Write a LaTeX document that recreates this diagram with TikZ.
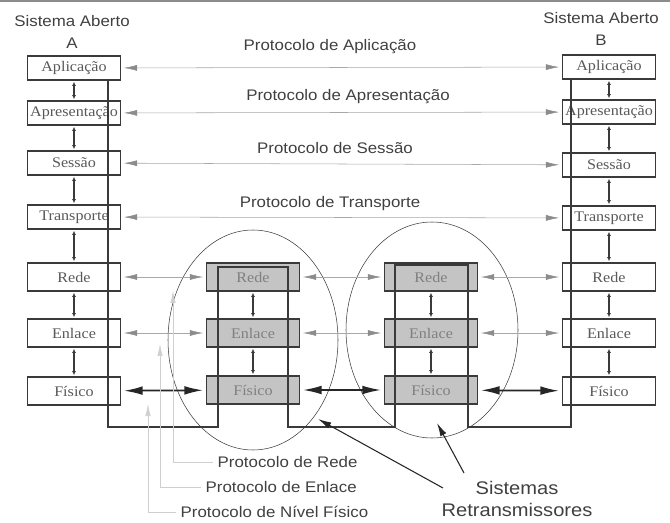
\documentclass[tikz,border=0pt]{standalone}
\usepackage{fontspec}
\setmainfont{Liberation Serif}[FakeStretch=1.1]
\newfontfamily\labelfont{Liberation Sans}[FakeStretch=1.1]
\usetikzlibrary{arrows.meta,shapes}
\definecolor{boxline}{HTML}{3A3A3A}
\definecolor{relayfill}{HTML}{C4C4C4}
\definecolor{peerline}{HTML}{A8A8A8}
\definecolor{peertip}{HTML}{8C8C8C}
\definecolor{leadline}{HTML}{CFCFCF}
\tikzstyle{layer}=[draw=boxline,thick,fill=white,text=black!65,minimum width=70pt,minimum height=18pt,inner sep=0pt,font=\fontsize{11}{12}\selectfont]
\tikzstyle{lowlayer}=[layer,minimum height=21pt]
\tikzstyle{relay}=[lowlayer,fill=relayfill,text=black!50]
\tikzstyle{peer}=[draw=peerline,thin,{Latex[length=10pt,width=4.5pt,color=peertip]}-{Latex[length=10pt,width=4.5pt,color=peertip]},shorten <=2pt,shorten >=2pt]
\tikzstyle{wire}=[draw=black!85,line width=1.3pt,{Latex[length=14pt,width=6.5pt]}-{Latex[length=14pt,width=6.5pt]},shorten <=2pt,shorten >=2pt]
\tikzstyle{updown}=[draw=boxline,line width=1pt,{Latex[length=3pt,width=3pt]}-{Latex[length=3pt,width=3pt]},shorten <=1pt,shorten >=1pt]
\tikzstyle{note}=[font=\labelfont\fontsize{11.5}{16}\selectfont,text=black!75]
\tikzstyle{leader}=[draw=leadline,-{Latex[length=9pt,width=4pt]}]
\tikzstyle{pointer}=[draw=black!85,thick,-{Latex[length=10pt,width=5pt]}]
\begin{document}
\begin{tikzpicture}[x=0.75pt,y=-0.75pt]
  \useasboundingbox (0,0) rectangle (670,523);
  \draw[black!45,line width=2pt] (0,1) -- (670,1);

  % relay systems
  \node[draw=boxline,ellipse,minimum width=127.5pt,minimum height=165pt,inner sep=0pt] (e1) at (253,340) {};
  \node[draw=boxline,ellipse,minimum width=129pt,minimum height=162pt,inner sep=0pt] (e2) at (432,330) {};

  % layers of the open systems
  \foreach \pos / \name / \txt in {{(74,68)/aApl/Aplicação}, {(74,113)/aApr/Apresentação},
                                   {(74,163)/aSes/Sessão}, {(74,217)/aTra/Transporte},
                                   {(609,67)/bApl/Aplicação}, {(609,112)/bApr/Apresentação},
                                   {(609,165)/bSes/Sessão}, {(609,218)/bTra/Transporte}}
    \node[layer] (\name) at \pos {\txt};
  \foreach \pos / \name / \txt in {{(74,277)/aRed/Rede}, {(74,333)/aEnl/Enlace}, {(74,391)/aFis/Físico},
                                   {(609,277)/bRed/Rede}, {(609,333)/bEnl/Enlace}, {(609,391)/bFis/Físico}}
    \node[lowlayer] (\name) at \pos {\txt};
  \foreach \pos / \name / \txt in {{(253,277)/rRed/Rede}, {(253,333)/rEnl/Enlace}, {(253,390)/rFis/Físico},
                                   {(431,277)/sRed/Rede}, {(431,333)/sEnl/Enlace}, {(431,390)/sFis/Físico}}
    \node[relay] (\name) at \pos {\txt};

  % path of the data
  \draw[boxline,thick] (108,80) -- (108,427) -- (218,427) -- (218,267) -- (288,267) -- (288,427)
    -- (395,427) -- (395,265) -- (468,265) -- (468,427) -- (571,427) -- (571,78);

  % between layers
  \foreach \source / \dest in {aApl/aApr, aApr/aSes, aSes/aTra, aTra/aRed, aRed/aEnl, aEnl/aFis,
                               bApl/bApr, bApr/bSes, bSes/bTra, bTra/bRed, bRed/bEnl, bEnl/bFis,
                               rRed/rEnl, rEnl/rFis, sRed/sEnl, sEnl/sFis}
    \draw[updown] (\source) -- (\dest);

  % peer protocols
  \foreach \source / \dest in {aApl/bApl, aApr/bApr, aSes/bSes, aTra/bTra,
                               aRed/rRed, rRed/sRed, sRed/bRed,
                               aEnl/rEnl, rEnl/sEnl, sEnl/bEnl}
    \draw[peer] (\source) -- (\dest);
  \foreach \source / \dest in {aFis/rFis, rFis/sFis, sFis/bFis}
    \draw[wire] (\source) -- (\dest);

  \node[note] (pApl) at (330,47) {Protocolo de Aplicação};
  \node[note] (pApr) at (348,97) {Protocolo de Apresentação};
  \node[note] (pSes) at (335,148) {Protocolo de Sessão};
  \node[note] (pTra) at (330,204) {Protocolo de Transporte};

  \node[note,align=center] (sysA) at (72,32) {Sistema Aberto\\A};
  \node[note,align=center] (sysB) at (601,29) {Sistema Aberto\\B};

  % leaders at the bottom
  \coordinate (tRed) at (173,291);
  \coordinate (tEnl) at (160,344);
  \coordinate (tFis) at (148,404);
  \node[note,anchor=west] (lRed) at (213,462) {Protocolo de Rede};
  \node[note,anchor=west] (lEnl) at (201,487) {Protocolo de Enlace};
  \node[note,anchor=west] (lFis) at (176,512) {Protocolo de Nível Físico};
  \draw[leader] (lRed.west) -| (tRed);
  \draw[leader] (lEnl.west) -| (tEnl);
  \draw[leader] (lFis.west) -| (tFis);

  \node[note,font=\labelfont\fontsize{13.7}{17}\selectfont,align=center] (relays) at (517,499) {Sistemas\\Retransmissores};
  \coordinate (s1) at (443,488);
  \coordinate (s2) at (464,473);
  \coordinate (h1) at (318,419);
  \coordinate (h2) at (437,423);
  \draw[pointer] (s1) -- (h1);
  \draw[pointer] (s2) -- (h2);
\end{tikzpicture}
\end{document}
